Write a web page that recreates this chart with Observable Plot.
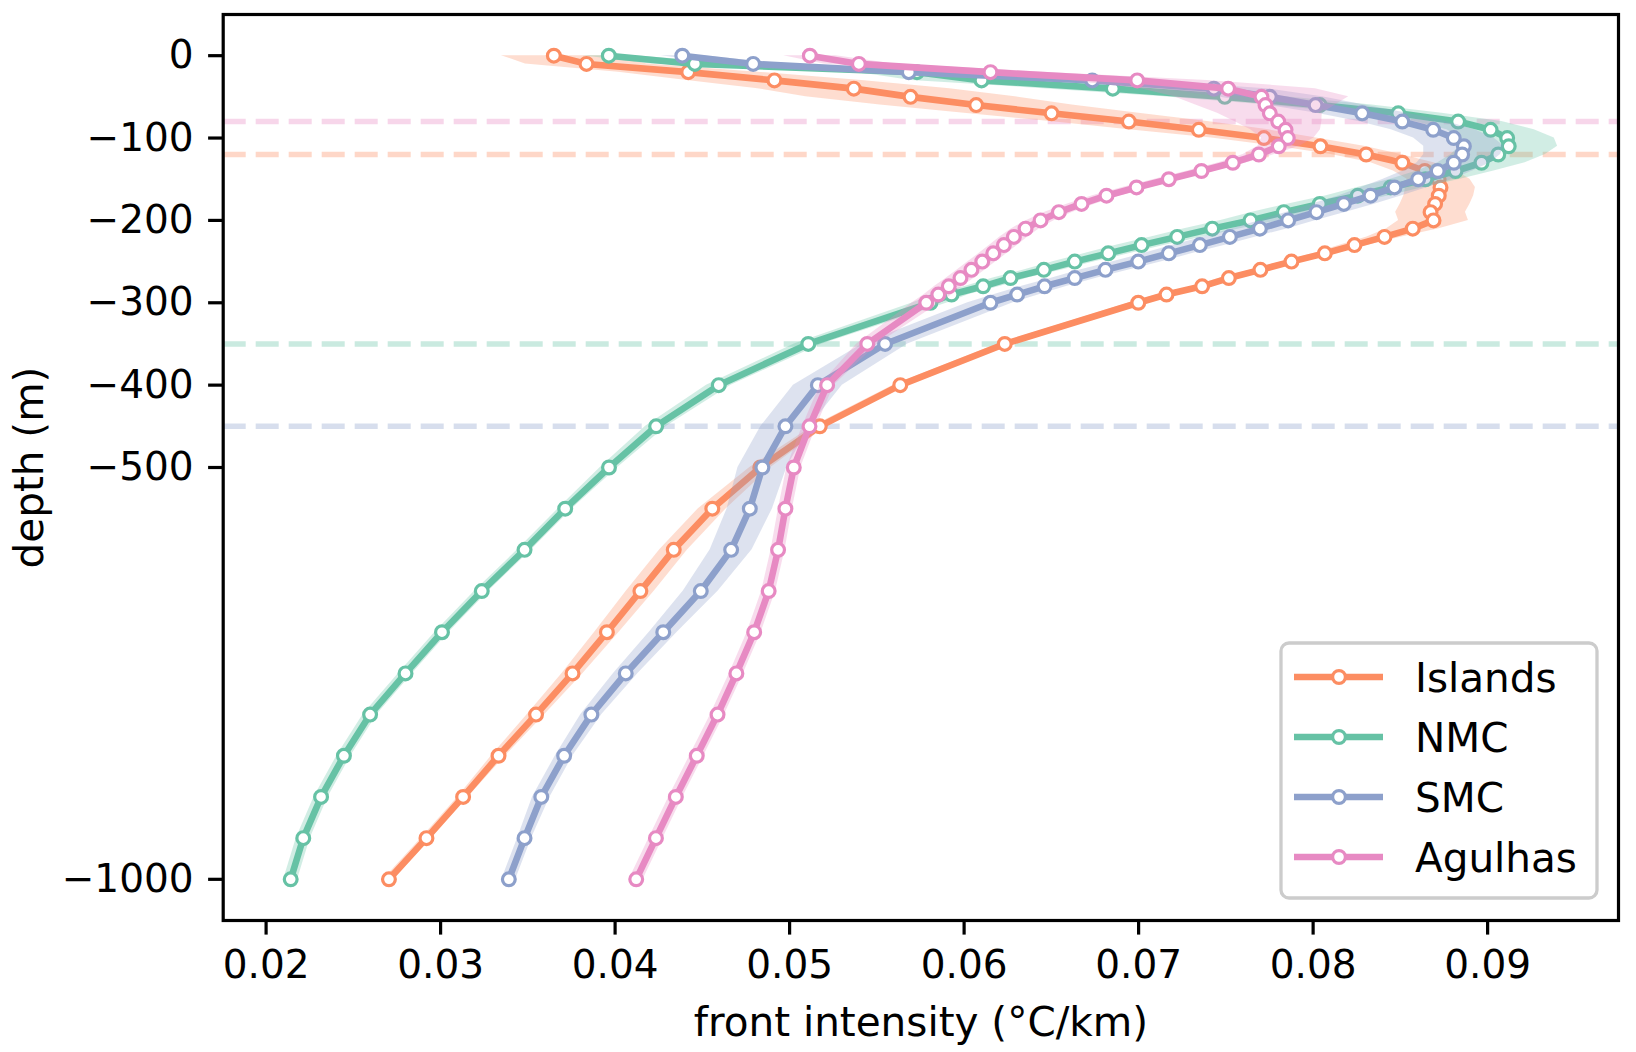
<!DOCTYPE html>
<html>
<head>
<meta charset="utf-8">
<script src="https://cdn.jsdelivr.net/npm/d3@7"></script>
<script src="https://cdn.jsdelivr.net/npm/@observablehq/plot@0.6"></script>
<style>
  html, body { margin: 0; padding: 0; background: white; }
  #chart { position: relative; width: 1636px; height: 1052px; }
  #chart svg { display: block; }
  #chart svg g[aria-label$="tick"] path, #chart svg .tick line { stroke-width: 3.2px; stroke: black; }
</style>
</head>
<body>
<div id="chart"></div>
<script>
// depth levels (m)
const depth = [0,-10,-20,-30,-40,-50,-60,-70,-80,-90,-100,-110,-120,-130,-140,-150,-160,-170,-180,-190,-200,
  -210,-220,-230,-240,-250,-260,-270,-280,-290,-300,-350,-400,-450,-500,-550,-600,-650,-700,-750,-800,-850,-900,-950,-1000];

const seriesNames = ["Islands", "NMC", "SMC", "Agulhas"];
const seriesColors = ["#fc8d62", "#66c2a5", "#8da0cb", "#e78ac3"];

// mean front intensity (°C/km)
const islands = [0.03649,0.03836,0.04419,0.04913,0.05368,0.05693,0.06069,0.06501,0.06944,0.07345,0.07718,
  0.08042,0.08304,0.08511,0.08640,0.08719,0.08730,0.08720,0.08699,0.08673,0.08690,
  0.08571,0.08409,0.08237,0.08067,0.07876,0.07698,0.07517,0.07364,0.07160,0.06998,
  0.06233,0.05634,0.05173,0.04832,0.04557,0.04336,0.04145,0.03953,0.03756,0.03547,0.03332,0.03129,0.02919,0.02704];
const nmc = [0.03964,0.04457,0.05730,0.06100,0.06852,0.07494,0.08038,0.08488,0.08831,0.09017,0.09112,
  0.09121,0.09061,0.08965,0.08816,0.08644,0.08444,0.08256,0.08038,0.07832,0.07641,
  0.07422,0.07221,0.07017,0.06826,0.06634,0.06457,0.06266,0.06109,0.05928,0.05807,
  0.05107,0.04594,0.04235,0.03965,0.03714,0.03481,0.03236,0.03008,0.02799,0.02596,0.02446,0.02315,0.02213,0.02141];
const smc = [0.04385,0.04791,0.05683,0.06734,0.07431,0.07752,0.08014,0.08281,0.08511,0.08688,0.08806,
  0.08864,0.08854,0.08806,0.08714,0.08602,0.08466,0.08329,0.08176,0.08019,0.07857,
  0.07695,0.07523,0.07351,0.07173,0.06998,0.06810,0.06634,0.06461,0.06304,0.06151,
  0.05547,0.05162,0.04976,0.04844,0.04772,0.04665,0.04491,0.04276,0.04061,0.03864,0.03708,0.03577,0.03481,0.03391];
const agulhas = [0.05116,0.05397,0.06151,0.06992,0.07513,0.07704,0.07727,0.07752,0.07800,0.07842,0.07855,
  0.07803,0.07689,0.07540,0.07360,0.07173,0.06988,0.06816,0.06673,0.06543,0.06438,
  0.06352,0.06285,0.06228,0.06167,0.06104,0.06042,0.05979,0.05912,0.05852,0.05783,
  0.05445,0.05215,0.05114,0.05024,0.04976,0.04934,0.04880,0.04797,0.04695,0.04587,0.04468,0.04348,0.04234,0.04121];

// spread (half-width of the shaded band)
const islandsSpread = [0.0030,0.0035,0.0040,0.0050,0.0055,0.0060,0.0055,0.0050,0.0045,0.0040,0.0030,
  0.0025,0.0020,0.0018,0.0018,0.0018,0.0020,0.0020,0.0020,0.0020,0.0020,
  0.0015,0.0010,0.0008,0.0006,0.0005,0.0005,0.0005,0.0005,0.0005,0.0005,
  0.0004,0.0004,0.0004,0.0006,0.0008,0.0008,0.0008,0.0007,0.0006,0.0005,0.0004,0.0003,0.0003,0.0003];
const nmcSpread = [0.0015,0.0025,0.0035,0.0040,0.0040,0.0035,0.0030,0.0025,0.0025,0.0025,0.0027,
  0.0028,0.0027,0.0025,0.0022,0.0020,0.0019,0.0018,0.0018,0.0018,0.0017,
  0.0016,0.0015,0.0014,0.0013,0.0012,0.0011,0.0010,0.0010,0.0010,0.0010,
  0.0008,0.0007,0.0006,0.0005,0.0004,0.0004,0.0004,0.0004,0.0004,0.0004,0.0004,0.0004,0.0004,0.0004];
const smcSpread = [0.0012,0.0018,0.0025,0.0030,0.0030,0.0030,0.0028,0.0026,0.0025,0.0024,0.0023,
  0.0023,0.0022,0.0021,0.0020,0.0020,0.0019,0.0018,0.0018,0.0017,0.0016,
  0.0016,0.0015,0.0015,0.0014,0.0014,0.0014,0.0013,0.0013,0.0013,0.0013,
  0.0013,0.0014,0.0014,0.0014,0.0013,0.0012,0.0010,0.0008,0.0007,0.0006,0.0005,0.0005,0.0004,0.0004];
const agulhasSpread = [0.0015,0.0020,0.0030,0.0040,0.0050,0.0050,0.0040,0.0030,0.0025,0.0020,0.0015,
  0.0012,0.0009,0.0008,0.0008,0.0008,0.0008,0.0008,0.0008,0.0008,0.0008,
  0.0008,0.0008,0.0008,0.0008,0.0008,0.0008,0.0008,0.0008,0.0008,0.0008,
  0.0006,0.0004,0.0004,0.0004,0.0004,0.0004,0.0004,0.0004,0.0004,0.0004,0.0004,0.0004,0.0004,0.0004];

// reference depths (dashed lines), one per series
const refDepth = [-120, -350, -450, -80];

const xTicks = [0.02, 0.03, 0.04, 0.05, 0.06, 0.07, 0.08, 0.09];
const yTicks = [0, -100, -200, -300, -400, -500, -1000];

const means = [islands, nmc, smc, agulhas];
const spreads = [islandsSpread, nmcSpread, smcSpread, agulhasSpread];

const tables = seriesNames.map((name, i) => depth.map((d, j) => ({
  series: name, depth: d, value: means[i][j],
  lo: means[i][j] - spreads[i][j], hi: means[i][j] + spreads[i][j]
})));

const FONT = "DejaVu Sans";
const FS = 40.5;      // axis labels and legend
const TFS = 39;       // tick labels
const LW = 6.6, MR = 6.4, MW = 3.2;

const marks = [];
// dashed reference lines (drawn beneath)
[3, 0, 1, 2].forEach(i => {
  marks.push(Plot.ruleY([refDepth[i]], {stroke: seriesColors[i], strokeOpacity: 0.35, strokeWidth: 5.5, strokeDasharray: "23,10"}));
});
tables.forEach((t, i) => {
  marks.push(Plot.areaX(t, {y: "depth", x1: "lo", x2: "hi", fill: seriesColors[i], fillOpacity: 0.3}));
  marks.push(Plot.line(t, {x: "value", y: "depth", stroke: seriesColors[i], strokeWidth: LW}));
  marks.push(Plot.dot(t, {x: "value", y: "depth", r: MR, fill: "white", stroke: seriesColors[i], strokeWidth: MW}));
});
marks.push(Plot.frame({stroke: "black", strokeWidth: 3.2}));
marks.push(Plot.text(["front intensity (°C/km)"], {text: d => d, frameAnchor: "bottom", dy: 103, textAnchor: "middle", lineAnchor: "middle", fontSize: FS, fill: "black"}));
marks.push(Plot.text(["depth (m)"], {text: d => d, frameAnchor: "left", dx: -193, rotate: -90, textAnchor: "middle", lineAnchor: "middle", fontSize: FS, fill: "black"}));

const minus = d => (d < 0 ? "\u2212" + Math.abs(d) : String(d));

const chart = Plot.plot({
  width: 1636,
  height: 1052,
  marginLeft: 222.7,
  marginRight: 18,
  marginTop: 14,
  marginBottom: 132,
  style: {fontFamily: FONT, fontSize: TFS + "px", background: "white", color: "black"},
  x: {domain: [0.017542, 0.0975], ticks: xTicks, tickFormat: d3.format(".2f"), tickSize: 14.6, tickPadding: 15, label: null},
  y: {domain: [-1050, 50], ticks: yTicks, tickFormat: minus, tickSize: 14.6, tickPadding: 15, label: null},
  marks
});

document.getElementById("chart").appendChild(chart);

// legend inside the axes (lower right)
const svg = d3.select(chart.tagName.toLowerCase() === "svg" ? chart : chart.querySelector("svg"));
const lg = svg.append("g").attr("font-family", FONT).attr("font-size", FS).attr("text-anchor", "start");
lg.append("rect").attr("x", 1281).attr("y", 643).attr("width", 316).attr("height", 255).attr("rx", 8)
  .attr("fill", "white").attr("fill-opacity", 0.8).attr("stroke", "#cccccc").attr("stroke-width", 3.3);
const rowY = [677, 737, 797, 857];
seriesNames.forEach((name, i) => {
  const y = rowY[i];
  lg.append("line").attr("x1", 1294).attr("x2", 1383).attr("y1", y).attr("y2", y)
    .attr("stroke", seriesColors[i]).attr("stroke-width", LW);
  lg.append("circle").attr("cx", 1339).attr("cy", y).attr("r", MR)
    .attr("fill", "white").attr("stroke", seriesColors[i]).attr("stroke-width", MW);
  lg.append("text").attr("x", 1415).attr("y", y + 15).attr("text-anchor", "start").attr("fill", "black").text(name);
});
</script>
</body>
</html>
